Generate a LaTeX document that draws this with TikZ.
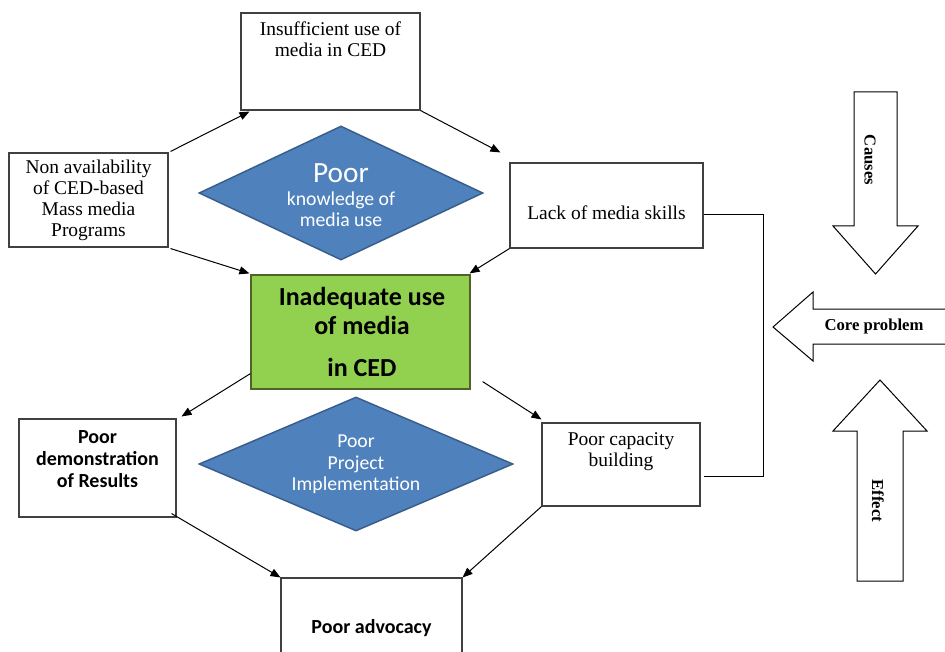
\documentclass[tikz,border=0pt]{standalone}
\usepackage{fontspec}
\setmainfont{Liberation Serif}
\newfontfamily\calib{Carlito}
\usetikzlibrary{shapes.geometric,arrows.meta,fit,calc}
\definecolor{dblue}{HTML}{4F81BD}
\definecolor{dblueb}{HTML}{385D8A}
\definecolor{lgreen}{HTML}{92D050}
\definecolor{lgreenb}{HTML}{4F6228}
\definecolor{boxline}{HTML}{404040}
\tikzset{
  box/.style={draw=boxline, line width=0.8pt, inner sep=0pt, fill=white},
  greenbox/.style={draw=lgreenb, fill=lgreen, line width=0.9pt, inner sep=0pt},
  dia/.style={diamond, draw=dblueb, fill=dblue, line width=1.1pt, inner sep=0pt},
  serif/.style={font=\fontsize{14.6}{15.75}\selectfont, align=center, inner sep=0pt},
  sansb/.style={font=\calib\bfseries\fontsize{15}{16.5}\selectfont, align=center, inner sep=0pt},
  greentext/.style={font=\calib\bfseries\fontsize{19.5}{21.75}\selectfont, align=center, inner sep=0pt},
  diatext/.style={font=\calib\fontsize{14.8}{16}\selectfont, text=white, align=center, inner sep=0pt},
  conn/.style={-{Triangle[length=7.5pt,width=6pt]}, line width=0.75pt},
  plainline/.style={line width=0.75pt},
  big/.style={draw=black, line width=0.75pt, fill=white},
  biglabel/.style={font=\bfseries\fontsize{12.5}{14}\selectfont, inner sep=0pt}
}
\begin{document}
\begin{tikzpicture}[x=0.75pt,y=-0.75pt]
\path[use as bounding box] (0,0) rectangle (945,652);
\clip (0,0) rectangle (945,652);

% boxes
\node[box, fit={(241,13) (420,110)}] (insuff) {};
\node[box, fit={(9,153) (168,247)}] (nonav) {};
\node[box, fit={(510,163) (703,248)}] (lack) {};
\node[greenbox, fit={(251,275) (470,389)}] (green) {};
\node[box, fit={(19,419) (176,517)}] (demo) {};
\node[box, fit={(542,423) (700,506)}] (cap) {};
\node[box, fit={(281,578) (462,670)}] (adv) {};

% diamonds
\node[dia, minimum width=213pt, minimum height=100.5pt] (d1) at (341,193) {};
\node[dia, minimum width=235.5pt, minimum height=100.5pt] (d2) at (356,464) {};

% texts
\node[serif] (tinsuff) at (330.5,39.5) {Insufficient use of\\media in CED};
\node[serif] (tnonav) at (88.5,200) {Non availability\\of CED-based\\Mass media\\Programs};
\node[serif] (tlack) at (606.5,213) {Lack of media skills};
\node[greentext] (tgreen) at (362,331.5) {Inadequate use\\of media\\[9.75pt]in CED};
\node[sansb] (tdemo) at (97.5,459) {Poor\\demonstration\\of Results};
\node[serif] (tcap) at (621,452) {Poor capacity\\building};
\node[sansb] (tadv) at (371.5,628) {Poor advocacy};
\node[diatext] (td1) at (341,195) {{\fontsize{22}{22}\selectfont Poor}\\[1pt]knowledge of\\media use};
\node[diatext] (td2) at (356,464.5) {Poor\\Project\\Implementation};

% connectors
\draw[conn] ($(nonav.north east)+(2,-1)$) -- ($(insuff.south west)+(9,1)$);
\draw[conn] (insuff.south east) -- ($(lack.north west)+(-9,-10)$);
\draw[conn] ($(nonav.south east)+(2,1)$) -- ($(green.north west)+(-1,-1)$);
\draw[conn] (lack.south west) -- ($(green.north east)+(-1,-1)$);
\draw[conn] ($(green.south west)+(0,-16)$) -- ($(demo.north east)+(5,-2)$);
\draw[conn] ($(green.south east)+(12,-8)$) -- ($(cap.north west)+(0,-3)$);
\draw[conn] ($(demo.south east)+(-5,-4)$) -- (adv.north west);
\draw[conn] (cap.south west) -- (adv.north east);

\coordinate (lk) at ($(lack.south east)+(0,-34)$);
\coordinate (cp) at ($(cap.south east)+(3,-30)$);
\draw[plainline] (lk) -- ++(60,0) |- (cp);

% big arrows
\draw[big] (854,92) -- (897,92) -- (897,226) -- (918,226) -- (875.5,274) -- (833,226) -- (854,226) -- cycle;
\draw[big] (950,309) -- (813,309) -- (813,292) -- (773,327) -- (813,361) -- (813,344) -- (950,344) -- cycle;
\draw[big] (857,581) -- (857,431) -- (833,431) -- (880,380) -- (927,431) -- (903,431) -- (903,581) -- cycle;
\node[biglabel, rotate=-90] (causes) at (870,160) {Causes};
\node[biglabel] (core) at (874,326) {Core problem};
\node[biglabel, rotate=-90] (effect) at (878,501) {Effect};
\end{tikzpicture}
\end{document}
